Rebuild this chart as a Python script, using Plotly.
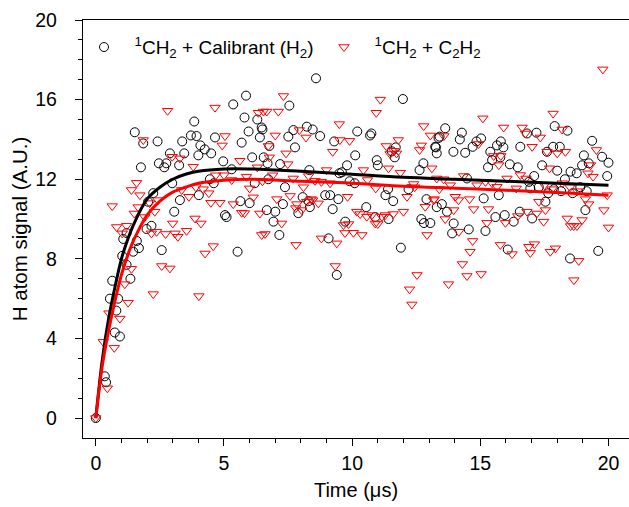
import plotly.graph_objects as go

# ---- data ----
t_black = [0, 0.35, 0.4, 0.55, 0.64, 0.74, 0.8, 0.87, 0.94, 1.03, 1.07, 1.2, 1.2, 1.35, 1.46, 1.52, 1.6, 1.68, 1.76, 1.85, 1.98,
           2.04, 2.17, 2.24, 2.41, 2.46, 2.57, 2.67, 2.75, 2.89, 2.98, 3.06, 3.25, 3.28, 3.37, 3.45, 3.71, 3.84, 3.93, 4.0,
           4.02, 4.08, 4.25, 4.45, 4.5, 4.6, 4.65, 4.97, 5.04, 5.1, 5.3, 5.36, 5.53, 5.64, 5.69, 5.8, 5.86, 5.96, 6.0, 6.1,
           6.2, 6.3, 6.4, 6.47, 6.5, 6.55, 6.67, 6.7, 6.73, 6.77, 6.93, 7.0, 7.16, 7.19, 7.3, 7.38, 7.51, 7.55, 7.71, 7.77,
           7.9, 8.07, 8.23, 8.3, 8.33, 8.35, 8.46, 8.59, 8.75, 8.95, 9.08, 9.14, 9.24, 9.3, 9.4, 9.46, 9.5, 9.6, 9.73, 9.8,
           9.9, 10.1, 10.12, 10.2, 10.55, 10.7, 10.75, 10.9, 10.96, 11.0, 11.3, 11.4, 11.42, 11.55, 11.6, 11.66, 11.7, 11.9,
           11.98, 12.2, 12.63, 12.7, 12.78, 12.8, 12.9, 13.05, 13.24, 13.27, 13.3, 13.3, 13.37, 13.41, 13.5, 13.63, 13.7,
           13.9, 13.95, 13.96, 14.2, 14.28, 14.41, 14.48, 14.55, 14.7, 14.85, 15.03, 15.13, 15.2, 15.3, 15.39, 15.46, 15.59,
           15.65, 15.72, 15.78, 15.8, 15.9, 15.95, 16.07, 16.15, 16.3, 16.46, 16.54, 16.56, 16.82, 16.9, 16.95, 17.02, 17.1,
           17.19, 17.28, 17.41, 17.54, 17.6, 17.65, 17.84, 17.87, 17.9, 18.0, 18.1, 18.15, 18.3, 18.4, 18.5, 18.52, 18.6,
           18.76, 18.9, 18.97, 19.04, 19.1, 19.15, 19.23, 19.36, 19.6, 19.75, 19.95, 20.0]
s_black = [0, 2.1, 1.8, 6.0, 6.9, 4.3, 5.4, 6.0, 4.1, 8.15, 9.0, 7.7, 9.3, 7.0, 8.36, 14.36, 8.9, 8.54, 12.6, 13.8, 9.5,
           10.87, 9.66, 11.3, 13.9, 12.8, 8.44, 12.6, 12.8, 13.3, 11.8, 10.37, 12.7, 10.95, 13.9, 13.3, 14.2, 14.9, 14.17, 13.2,
           11.2, 13.7, 13.5, 12.0, 13.3, 11.8, 14.1, 12.9, 10.2, 10.1, 12.5, 15.76, 8.36, 10.9, 13.84, 15.1, 16.2, 14.4, 10.8, 13.1,
           11.8, 15.0, 14.1, 14.6, 14.5, 13.1, 10.45, 12.8, 12.0, 13.67, 9.87, 10.37, 9.2, 12.76, 10.75, 11.6, 14.14, 15.7, 14.47, 13.6,
           10.3, 11.1, 14.64, 10.9, 12.46, 10.6, 14.5, 17.07, 14.17, 11.2, 9.03, 11.2, 10.5, 13.9, 7.19, 11.0, 12.3, 12.35, 9.87, 12.7,
           11.9, 11.8, 13.2, 14.4, 10.6, 14.2, 14.3, 10.1, 12.96, 12.7, 11.2, 11.5, 10.0, 13.4, 10.9, 13.1, 13.6, 8.56,
           16.03, 11.5, 12.46, 10.0, 12.8, 9.8, 11.0, 9.8, 13.63, 13.6, 10.6, 13.3, 14.07, 14.14, 10.75, 14.56, 10.37,
           9.28, 13.38, 9.78, 14.0, 14.34, 13.33, 12.04, 9.48, 13.63, 13.9, 14.05, 11.04, 9.4, 12.6, 13.38, 12.96, 10.1,
           13.7, 11.2, 13.1, 13.9, 13.6, 10.2, 8.47, 12.75, 9.87, 12.6, 10.37, 13.63, 14.3, 11.87, 11.54, 10.03, 12.16,
           14.34, 11.6, 12.7, 10.87, 13.38, 11.3, 13.63, 11.5, 14.67, 12.43, 13.63, 11.4, 12.0, 14.44, 8.02, 12.38, 11.3,
           12.3, 11.6, 12.7, 13.2, 10.45, 11.4, 12.8, 13.93, 8.4, 13.13, 12.16, 12.83]

t_red = [0, 0.29, 0.45, 0.51, 0.64, 0.72, 0.81, 0.94, 1.03, 1.13, 1.2, 1.26, 1.39, 1.39, 1.5, 1.59, 1.65, 1.72, 1.85, 1.91,
         2.1, 2.17, 2.24, 2.3, 2.37, 2.42, 2.57, 2.72, 2.8, 2.89, 2.98, 3.0, 3.09, 3.2, 3.28, 3.35, 3.54, 3.63, 3.8, 3.87,
         3.9, 4.02, 4.1, 4.19, 4.26, 4.41, 4.49, 4.58, 4.65, 4.68, 4.84, 4.93, 5.0, 5.04, 5.3, 5.36, 5.62, 5.69, 5.8, 5.88,
         6.0, 6.14, 6.3, 6.34, 6.4, 6.47, 6.5, 6.54, 6.6, 6.67, 6.73, 6.77, 6.9, 7.0, 7.06, 7.12, 7.25, 7.32, 7.42, 7.49,
         7.58, 7.7, 7.8, 7.81, 7.84, 7.94, 8.03, 8.1, 8.2, 8.23, 8.3, 8.4, 8.46, 8.55, 8.68, 8.8, 8.8, 9.0, 9.14, 9.24,
         9.34, 9.4, 9.5, 9.52, 9.66, 9.72, 9.82, 9.86, 9.9, 10.05, 10.18, 10.31, 10.38, 10.44, 10.57, 10.6, 10.77, 10.9,
         10.92, 10.94, 11.0, 11.1, 11.16, 11.29, 11.33, 11.42, 11.48, 11.6, 11.62, 11.73, 11.8, 11.88, 12.0, 12.14, 12.24,
         12.33, 12.4, 12.44, 12.53, 12.63, 12.7, 12.79, 12.85, 12.92, 13.05, 13.11, 13.18, 13.2, 13.3, 13.4, 13.57, 13.58,
         13.63, 13.76, 13.83, 13.96, 14.02, 14.15, 14.16, 14.3, 14.35, 14.48, 14.58, 14.6, 14.7, 14.74, 14.87, 14.93, 15.03,
         15.1, 15.2, 15.26, 15.32, 15.46, 15.52, 15.65, 15.72, 15.78, 15.8, 15.91, 15.98, 16.04, 16.24, 16.4, 16.46, 16.56,
         16.63, 16.76, 16.78, 16.82, 16.89, 16.95, 17.02, 17.11, 17.2, 17.28, 17.34, 17.47, 17.5, 17.54, 17.6, 17.7, 17.73,
         17.8, 17.84, 17.93, 18.0, 18.19, 18.2, 18.32, 18.39, 18.5, 18.52, 18.64, 18.65, 18.77, 18.78, 18.84, 18.97, 19.1,
         19.2, 19.23, 19.3, 19.4, 19.53, 19.78, 19.82, 19.95, 20.0]
s_red = [0, 3.83, 1.5, 5.27, 10.65, 3.53, 9.6, 5.0, 9.28, 6.73, 9.66, 5.8, 7.5, 11.46, 10.28, 11.82, 10.6, 11.2, 13.97, 10.1,
         10.8, 9.28, 6.23, 10.37, 9.36, 10.95, 7.64, 9.25, 15.44, 7.52, 13.13, 9.78, 9.28, 9.11, 13.05, 11.46, 9.41, 11.12, 12.63, 10.03,
         11.6, 6.13, 9.78, 11.5, 8.27, 11.3, 10.82, 8.64, 15.6, 12.2, 10.82, 13.7, 12.2, 14.17, 11.96, 10.75, 12.93, 10.32, 10.3, 12.13,
         11.54, 11.09, 12.6, 15.34, 10.28, 9.2, 11.9, 15.4, 9.25, 15.4, 13.67, 13.1, 12.2, 14.2, 11.0, 15.4, 9.78, 16.18, 13.3, 12.76,
         11.16, 12.04, 10.55, 8.7, 10.75, 14.47, 10.45, 11.6, 14.1, 10.87, 12.16, 11.0, 10.95, 11.92, 10.79, 11.87, 9.03, 12.46, 11.8, 13.38,
         7.64, 8.78, 14.77, 13.97, 9.7, 9.3, 11.12, 9.75, 13.93, 9.31, 10.37, 10.25, 9.2, 12.46, 10.12, 11.96, 10.2, 9.78,
         11.54, 15.34, 9.75, 16.0, 10.12, 10.2, 13.67, 12.55, 13.27, 10.25, 13.43, 13.3, 13.97, 12.33, 10.37, 11.12, 6.47,
         5.71, 11.76, 11.6, 7.19, 13.47, 13.7, 14.67, 10.62, 9.2, 14.2, 12.55, 10.95, 11.0, 12.04, 11.5, 12.0, 14.17,
         10.0, 6.73, 11.7, 10.45, 11.12, 10.95, 9.36, 7.74, 12.16, 7.14, 11.0, 8.36, 8.9, 10.5, 11.7, 13.77, 7.24,
         15.06, 11.87, 9.81, 10.5, 11.8, 13.17, 11.62, 12.71, 8.7, 13.17, 14.6, 9.81, 12.04, 8.24, 11.54, 10.15, 12.21,
         14.6, 14.3, 12.04, 10.37, 8.61, 8.3, 13.63, 8.74, 10.28, 10.87, 14.1, 9.87, 11.7, 10.45, 13.38, 12.55, 8.36,
         11.5, 15.3, 8.53, 13.3, 14.5, 11.8, 13.38, 10.03, 11.6, 9.65, 9.65, 6.93, 9.65, 11.4, 7.9, 9.95, 11.0,
         12.3, 10.75, 12.71, 12.13, 13.47, 17.52, 10.45, 11.2, 9.58]

fit_t = [0, 0.25, 0.5, 0.75, 1.0, 1.25, 1.5, 2.0, 2.5, 3.0, 3.5, 4.0, 5.0, 6.0, 8.0, 10, 12, 14, 16, 18, 20]
fit_black = [0, 2.9, 5.0, 6.6, 8.0, 9.0, 9.8, 11.0, 11.6, 12.0, 12.25, 12.4, 12.52, 12.52, 12.4, 12.25, 12.1, 12.0, 11.9, 11.8, 11.7]
fit_red = [0, 2.6, 4.4, 5.9, 7.2, 8.2, 9.0, 10.2, 10.9, 11.35, 11.6, 11.8, 11.95, 12.0, 11.9, 11.8, 11.65, 11.55, 11.45, 11.33, 11.2]

name_black = "\u2002<sup>1</sup>CH<sub>2</sub> + Calibrant (H<sub>2</sub>)"
name_red = "\u2002<sup>1</sup>CH<sub>2</sub> + C<sub>2</sub>H<sub>2</sub>"

FONT = "Arial, Liberation Sans, sans-serif"

fig = go.Figure()
fig.add_trace(go.Scatter(x=t_black, y=s_black, mode="markers", name=name_black,
                         marker=dict(symbol="circle-open", size=9, color="black", line=dict(width=1))))
fig.add_trace(go.Scatter(x=t_red, y=s_red, mode="markers", name=name_red,
                         marker=dict(symbol="triangle-down-open", size=9, color="red", line=dict(width=1))))
fig.add_trace(go.Scatter(x=fit_t, y=fit_black, mode="lines", showlegend=False,
                         line=dict(color="black", width=3, shape="spline")))
fig.add_trace(go.Scatter(x=fit_t, y=fit_red, mode="lines", showlegend=False,
                         line=dict(color="red", width=3, shape="spline")))

fig.update_layout(
    width=629, height=507,
    margin=dict(l=83, r=0, t=20, b=69),
    paper_bgcolor="white", plot_bgcolor="white",
    font=dict(family=FONT, size=19, color="black"),
    showlegend=True,
    legend=dict(orientation="h", x=0, xanchor="left", y=0.935, yanchor="middle",
                bgcolor="rgba(0,0,0,0)", font=dict(size=19, family=FONT),
                itemwidth=32, entrywidth=193, tracegroupgap=0),
    xaxis=dict(range=[-0.5, 20.8], tickmode="array", tickvals=[0, 5, 10, 15, 20],
               ticks="outside", ticklen=7, tickwidth=1.2, tickcolor="black",
               minor=dict(tickvals=[i for i in range(0, 21) if i % 5 != 0], ticks="outside", ticklen=4,
                          tickwidth=1.2, tickcolor="black"),
               showline=True, linecolor="black", linewidth=1.3, mirror=True,
               showgrid=False, zeroline=False,
               tickfont=dict(size=19.5, family=FONT),
               title=dict(text="Time (\u03bcs)", font=dict(size=20, family=FONT), standoff=10)),
    yaxis=dict(range=[-1, 20], tickmode="array", tickvals=[0, 4, 8, 12, 16, 20],
               ticks="outside", ticklen=7, tickwidth=1.2, tickcolor="black",
               minor=dict(tickvals=[i for i in range(0, 21) if i % 4 != 0], ticks="outside", ticklen=4,
                          tickwidth=1.2, tickcolor="black"),
               showline=True, linecolor="black", linewidth=1.3, mirror=False,
               showgrid=False, zeroline=False, ticklabelstandoff=14,
               tickfont=dict(size=19.5, family=FONT),
               title=dict(text="H atom signal (A.U.)", font=dict(size=20.5, family=FONT), standoff=2)),
)

fig.write_html("out.html")
